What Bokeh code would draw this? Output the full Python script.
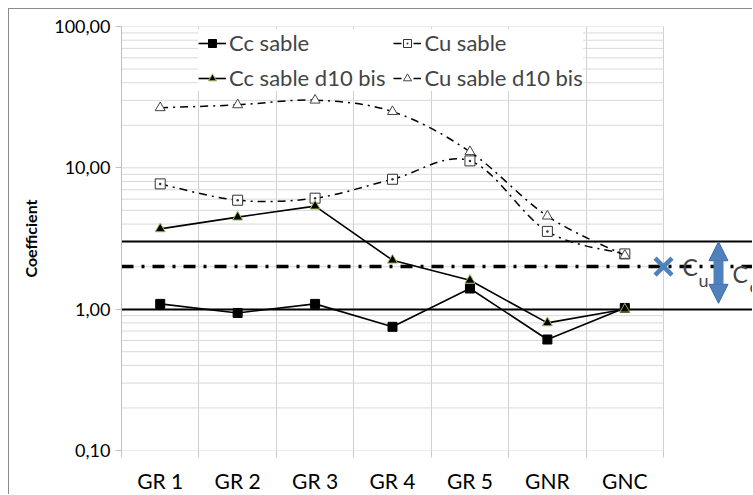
import math
from bokeh.plotting import figure
from bokeh.models import (Range1d, FixedTicker, Legend, LegendItem, Label, Arrow,
                          NormalHead)
from bokeh.embed import file_html
from bokeh.resources import INLINE

# ---------------- data ----------------
categories = ["GR 1", "GR 2", "GR 3", "GR 4", "GR 5", "GNR", "GNC"]
cc_sable = [1.09, 0.94, 1.09, 0.75, 1.40, 0.61, 1.02]
cc_sable_d10 = [3.70, 4.48, 5.36, 2.22, 1.60, 0.80, 1.00]
cu_sable = [7.7, 5.9, 6.1, 8.3, 11.2, 3.55, 2.46]
cu_sable_d10 = [26.6, 27.9, 30.1, 25.0, 13.0, 4.55, 2.40]
cc_limits = [1.0, 3.0]      # solid reference lines (Cc range)
cu_limit = [2.0]            # dash-dot reference line (Cu)
y_ticks = [0.1, 1, 10, 100]
y_tick_labels = ["0,10", "1,00", "10,00", "100,00"]

FONT = "Lato"
BLUE = "#4F81BD"

n = len(categories)
xc = [i + 0.5 for i in range(n)]          # category centres
xb = list(range(n + 1))                    # category boundaries

p = figure(width=744, height=486, y_axis_type="log",
           x_range=Range1d(0, 8.162), y_range=Range1d(0.1, 100),
           output_backend="svg", toolbar_location=None,
           min_border_left=112, min_border_right=0,
           min_border_top=17, min_border_bottom=45)
p.outline_line_color = None
p.background_fill_color = "white"
p.margin = (8, 0, 0, 8)
p.styles = {"border-top": "1px solid #8c8c8c", "border-left": "1px solid #8c8c8c"}

# ---------------- grid ----------------
grid_vals = []
for dec in [0.1, 1, 10]:
    for k in range(1, 10):
        grid_vals.append(dec * k)
grid_vals.append(100)
p.segment(x0=[0] * len(grid_vals), x1=[n] * len(grid_vals), y0=grid_vals, y1=grid_vals,
          line_color="#d9d9d9", line_width=1)

xt = FixedTicker(ticks=xc, minor_ticks=xb)
p.xaxis.ticker = xt
p.xgrid.ticker = xt
p.xgrid.grid_line_color = None
p.xgrid.minor_grid_line_color = "#d0d0d0"
p.ygrid.grid_line_color = None
p.ygrid.minor_grid_line_color = None

# ---------------- axes ----------------
p.xaxis.major_label_overrides = {x: c for x, c in zip(xc, categories)}
p.xaxis.major_tick_line_color = None
p.xaxis.major_tick_out = 0
p.xaxis.minor_tick_line_color = "#c8c8c8"
p.xaxis.minor_tick_out = 7
p.xaxis.minor_tick_in = 0
p.xaxis.axis_line_color = None
p.xaxis.major_label_standoff = 10
p.xaxis.major_label_text_font = FONT
p.xaxis.major_label_text_font_size = "21px"
p.xaxis.major_label_text_color = "black"

p.yaxis.ticker = FixedTicker(ticks=y_ticks, minor_ticks=[])
p.yaxis.major_label_overrides = {t: l for t, l in zip(y_ticks, y_tick_labels)}
p.yaxis.axis_line_color = "#bfbfbf"
p.yaxis.major_tick_line_color = "#bfbfbf"
p.yaxis.major_tick_out = 6
p.yaxis.major_tick_in = 0
p.yaxis.minor_tick_line_color = None
p.yaxis.major_label_standoff = 5
p.yaxis.major_label_text_font = FONT
p.yaxis.major_label_text_font_size = "18px"
p.yaxis.major_label_text_color = "black"
p.yaxis.axis_label = "Coefficient"
p.yaxis.axis_label_text_font = FONT
p.yaxis.axis_label_text_font_style = "bold"
p.yaxis.axis_label_text_font_size = "16px"
p.yaxis.axis_label_text_color = "black"
p.yaxis.axis_label_standoff = 11

# ---------------- reference lines ----------------
p.hspan(y=cc_limits, line_color="black", line_width=2)
p.hspan(y=cu_limit, line_color="black", line_width=3.5, line_dash="12 8 3 8")

# ---------------- smoothed Cu curves ----------------
def bezier_parts(xs, ys):
    ly = [math.log10(v) for v in ys]
    m = len(xs)
    out = dict(x0=[], y0=[], x1=[], y1=[], cx0=[], cy0=[], cx1=[], cy1=[])
    for i in range(m - 1):
        a = i - 1 if i > 0 else i
        d = i + 2 if i + 2 < m else i + 1
        out["x0"].append(xs[i]); out["y0"].append(ys[i])
        out["x1"].append(xs[i + 1]); out["y1"].append(ys[i + 1])
        out["cx0"].append(xs[i] + (xs[i + 1] - xs[a]) / 6)
        out["cy0"].append(10 ** (ly[i] + (ly[i + 1] - ly[a]) / 6))
        out["cx1"].append(xs[i + 1] - (xs[d] - xs[i]) / 6)
        out["cy1"].append(10 ** (ly[i + 1] - (ly[d] - ly[i]) / 6))
    return out

cu_b = p.bezier(**bezier_parts(xc, cu_sable), line_color="black", line_width=1.5,
                line_dash="8 5 2 5")
cu_m = p.scatter(xc, cu_sable, marker="square_dot", size=10, fill_color="white",
                 line_color="#333333", line_width=1)
cud_b = p.bezier(**bezier_parts(xc, cu_sable_d10), line_color="black", line_width=1.5,
                 line_dash="8 5 2 5")
cud_m = p.scatter(xc, cu_sable_d10, marker="triangle", size=10, fill_color="white",
                  line_color="#444444", line_width=1)

cc_l = p.line(xc, cc_sable, line_color="black", line_width=1.6)
cc_m = p.scatter(xc, cc_sable, marker="square", size=9, fill_color="black",
                 line_color="black")
ccd_l = p.line(xc, cc_sable_d10, line_color="black", line_width=1.6)
ccd_m = p.scatter(xc, cc_sable_d10, marker="triangle", size=10, fill_color="black",
                  line_color="#9BBB59", line_width=1)

# ---------------- annotations ----------------
p.scatter(x=[n], y=cu_limit, marker="x", size=24, line_color=BLUE, line_width=4.5)
p.add_layout(Label(x=n, y=cu_limit[0], x_offset=19, y_offset=0, text="C",
                   text_baseline="middle", text_font=FONT, text_font_size="23px"))
p.add_layout(Label(x=n, y=cu_limit[0], x_offset=35, y_offset=-13, text="u",
                   text_baseline="middle", text_font=FONT, text_font_size="18px"))
p.add_layout(Arrow(x_start=7.71, y_start=1.10, x_end=7.71, y_end=cc_limits[1],
                   line_color=BLUE, line_width=10,
                   start=NormalHead(size=19, fill_color=BLUE, line_color="#3A6AA3", line_width=1),
                   end=NormalHead(size=19, fill_color=BLUE, line_color="#3A6AA3", line_width=1)))
p.add_layout(Label(x=n, y=cu_limit[0], x_offset=69, y_offset=-7, text="C",
                   text_baseline="middle", text_font=FONT, text_font_size="23px"))
p.add_layout(Label(x=n, y=cu_limit[0], x_offset=86, y_offset=-19, text="c",
                   text_baseline="middle", text_font=FONT, text_font_size="18px"))

# ---------------- legend ----------------
legend = Legend(items=[
    LegendItem(label="Cc sable", renderers=[cc_l, cc_m]),
    LegendItem(label="Cc sable d10 bis", renderers=[ccd_l, ccd_m]),
    LegendItem(label="Cu sable", renderers=[cu_b, cu_m]),
    LegendItem(label="Cu sable d10 bis", renderers=[cud_b, cud_m]),
], ncols=2, location=(77, 359))
legend.border_line_color = None
legend.background_fill_color = "white"
legend.background_fill_alpha = 1
legend.label_text_font = FONT
legend.label_text_font_size = "22px"
legend.glyph_width = 28
legend.glyph_height = 20
legend.label_height = 20
legend.label_width = 150
legend.label_standoff = 3
legend.spacing = 8
legend.padding = 7
legend.margin = 0
p.add_layout(legend)

open("out.html", "w").write(file_html(p, INLINE))
